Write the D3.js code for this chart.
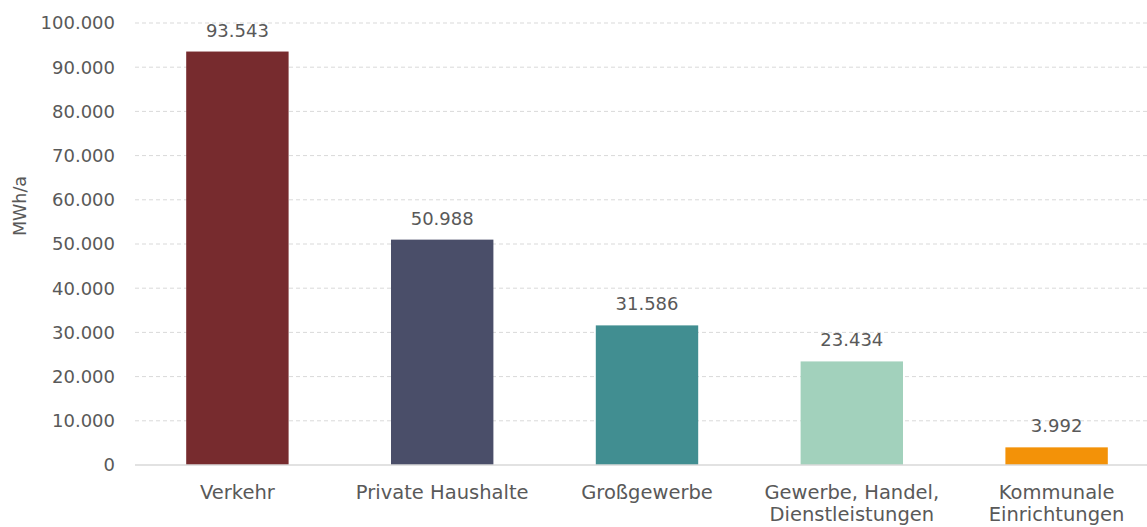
<!DOCTYPE html>
<html>
<head>
<meta charset="utf-8">
<script src="https://cdn.jsdelivr.net/npm/d3@7"></script>
<style>
  html, body { margin: 0; padding: 0; background: #fff; }
  svg text { font-family: "DejaVu Sans", sans-serif; fill: #595959; }
</style>
</head>
<body>
<svg id="chart" width="1147" height="527"></svg>
<script>
const categories = [["Verkehr"], ["Private Haushalte"], ["Großgewerbe"], ["Gewerbe, Handel,", "Dienstleistungen"], ["Kommunale", "Einrichtungen"]];
const values = [93543, 50988, 31586, 23434, 3992];
const colors = ["#772B2E", "#4A4E69", "#418E91", "#A2D1BC", "#F39208"];
const yTicks = [0, 10000, 20000, 30000, 40000, 50000, 60000, 70000, 80000, 90000, 100000];
const yLabel = "MWh/a";

const fmt = v => d3.format(",")(v).replace(/,/g, ".");

const svg = d3.select("#chart");
const margin = { left: 135, right: -12, top: 23, bottom: 62 };
const W = 1147, H = 527;

const x = d3.scaleBand()
  .domain(d3.range(values.length))
  .range([margin.left, W - margin.right])
  .paddingInner(0.5).paddingOuter(0.25);

const y = d3.scaleLinear().domain([0, 100000]).range([H - margin.bottom, margin.top]);

// gridlines
svg.append("g").selectAll("line").data(yTicks.filter(t => t > 0)).join("line")
  .attr("x1", margin.left).attr("x2", W)
  .attr("y1", d => y(d)).attr("y2", d => y(d))
  .attr("stroke", "#d9d9d9").attr("stroke-width", 1).attr("stroke-dasharray", "4,3");

// y axis tick labels
svg.append("g").selectAll("text").data(yTicks).join("text")
  .attr("x", 115).attr("y", d => y(d)).attr("dy", "0.35em")
  .attr("text-anchor", "end").attr("font-size", 18)
  .text(d => fmt(d));

// bars
svg.append("g").selectAll("rect").data(values).join("rect")
  .attr("x", (d, i) => x(i)).attr("width", x.bandwidth())
  .attr("y", d => y(d)).attr("height", d => y(0) - y(d))
  .attr("fill", (d, i) => colors[i]);

// baseline
svg.append("line")
  .attr("x1", margin.left).attr("x2", W)
  .attr("y1", y(0)).attr("y2", y(0))
  .attr("stroke", "#d9d9d9").attr("stroke-width", 1.5);

// value labels
svg.append("g").selectAll("text").data(values).join("text")
  .attr("x", (d, i) => x(i) + x.bandwidth() / 2)
  .attr("y", d => y(d) - 15)
  .attr("text-anchor", "middle").attr("font-size", 18)
  .attr("fill", "#404040")
  .text(d => fmt(d));

// category labels
const cat = svg.append("g").selectAll("text").data(categories).join("text")
  .attr("x", (d, i) => x(i) + x.bandwidth() / 2)
  .attr("y", y(0) + 34)
  .attr("text-anchor", "middle").attr("font-size", 19.5);
cat.selectAll("tspan").data(d => d).join("tspan")
  .attr("x", function () { return d3.select(this.parentNode).attr("x"); })
  .attr("dy", (d, i) => i === 0 ? 0 : 22)
  .text(d => d);

// y axis title
svg.append("text")
  .attr("transform", "translate(26, 206) rotate(-90)")
  .attr("text-anchor", "middle").attr("font-size", 17.5)
  .text(yLabel);
</script>
</body>
</html>
